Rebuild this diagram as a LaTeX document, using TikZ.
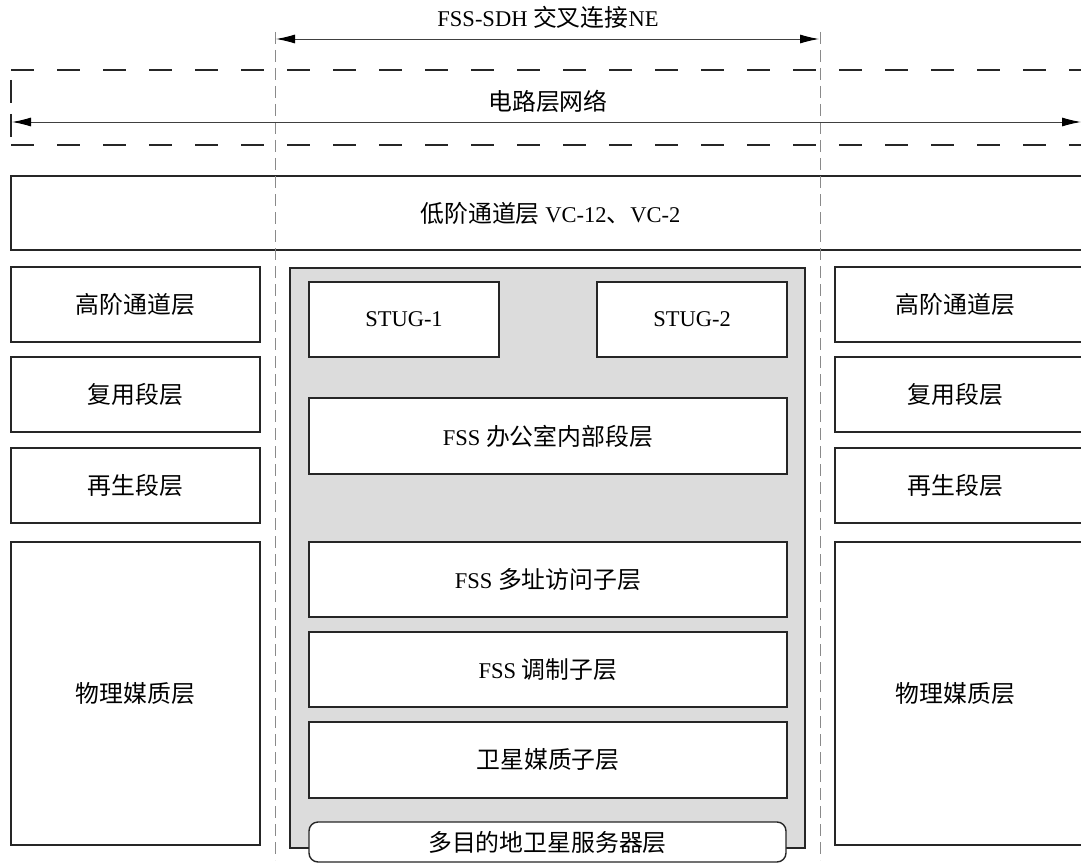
\documentclass[tikz,border=0pt]{standalone}
\usepackage{fontspec}
\setmainfont{Liberation Serif}
\newfontfamily\cjk[Scale=1.06]{Noto Sans CJK SC}
\usetikzlibrary{arrows.meta}
\definecolor{panelgray}{HTML}{DCDCDC}
\definecolor{guidegray}{HTML}{8A8A8A}
\begin{document}
\begin{tikzpicture}[x=1pt,y=-1pt,
  font=\fontsize{22.5}{26}\selectfont,
  box/.style={draw=black!85, line width=1.4pt, fill=white, inner sep=0pt, outer sep=0pt},
  openbox/.style={draw=black!85, line width=1.4pt, inner sep=0pt, outer sep=0pt},
  panel/.style={draw=black!85, line width=2pt, fill=panelgray, inner sep=0pt},
  roundbox/.style={box, rounded corners=9pt},
  hdash/.style={draw=black!85, line width=1.8pt, dash pattern=on 23pt off 23pt},
  vguide/.style={draw=guidegray, line width=0.9pt, dash pattern=on 12pt off 6pt},
  dimarrow/.style={draw=black!75, line width=0.9pt, {Latex[length=19pt,width=9pt,black]}-{Latex[length=19pt,width=9pt,black]}},
  lbl/.style={inner sep=1pt}
]
\useasboundingbox (0,0) rectangle (1081,864);

% circuit layer network band
\draw[hdash] (11,70) -- (1095,70);
\draw[hdash] (11,145) -- (1095,145);
\draw[draw=black!85, line width=1.8pt, dash pattern=on 23pt off 11pt] (11,80) -- (11,137);

% low-order path layer
\node[openbox, minimum width=1079pt, minimum height=74pt] (low) at (550.5,213) {{\cjk 低阶通道层} VC-12{\cjk 、}VC-2};

% left column
\node[box, minimum width=249pt, minimum height=75pt] (lhp) at (135.5,304.5) {\cjk 高阶通道层};
\node[box, minimum width=249pt, minimum height=75pt] (lms) at (135.5,394.5) {\cjk 复用段层};
\node[box, minimum width=249pt, minimum height=75pt] (lrs) at (135.5,485.5) {\cjk 再生段层};
\node[box, minimum width=249pt, minimum height=303pt] (lpm) at (135.5,693.5) {\cjk 物理媒质层};

% right column (cut by the right edge)
\node[box, minimum width=255pt, minimum height=75pt, label={[xshift=-7pt]center:\cjk 高阶通道层}] (rhp) at (962.5,304.5) {};
\node[box, minimum width=255pt, minimum height=75pt, label={[xshift=-7pt]center:\cjk 复用段层}] (rms) at (962.5,394.5) {};
\node[box, minimum width=255pt, minimum height=75pt, label={[xshift=-7pt]center:\cjk 再生段层}] (rrs) at (962.5,485.5) {};
\node[box, minimum width=255pt, minimum height=303pt, label={[xshift=-7pt]center:\cjk 物理媒质层}] (rpm) at (962.5,693.5) {};

% FSS panel
\node[panel, minimum width=515pt, minimum height=580pt] (fss) at (547.5,558) {};
\node[box, minimum width=190pt, minimum height=75pt] (stug1) at (404,319.5) {STUG-1};
\node[box, minimum width=190pt, minimum height=75pt] (stug2) at (692,319.5) {STUG-2};
\node[box, minimum width=478pt, minimum height=76pt] (office) at (548,436) {FSS {\cjk 办公室内部段层}};
\node[box, minimum width=478pt, minimum height=75pt] (mac) at (548,579.5) {FSS {\cjk 多址访问子层}};
\node[box, minimum width=478pt, minimum height=75pt] (mod) at (548,669.5) {FSS {\cjk 调制子层}};
\node[box, minimum width=478pt, minimum height=76pt] (sat) at (548,760) {\cjk 卫星媒质子层};
\node[roundbox, minimum width=477pt, minimum height=40pt] (msl) at (547.5,842) {\cjk 多目的地卫星服务器层};

% guide lines
\coordinate (gLt) at (275,32);
\coordinate (gLb) at (275,860);
\coordinate (gRt) at (820,32);
\coordinate (gRb) at (820,860);
\draw[vguide] (gLt) -- (gLb);
\draw[vguide] (gRt) -- (gRb);

% dimension arrows
\coordinate (neL) at (276,39);
\coordinate (neR) at (819,39);
\draw[dimarrow] (neL) -- (neR);
\node[lbl] (neLabel) at (548,17) {FSS-SDH {\cjk 交叉连接}NE};

\coordinate (ckL) at (12,122);
\coordinate (ckR) at (1081,122);
\draw[dimarrow] (ckL) -- (ckR);
\node[lbl] (ckLabel) at (548,101) {\cjk 电路层网络};
\end{tikzpicture}
\end{document}
